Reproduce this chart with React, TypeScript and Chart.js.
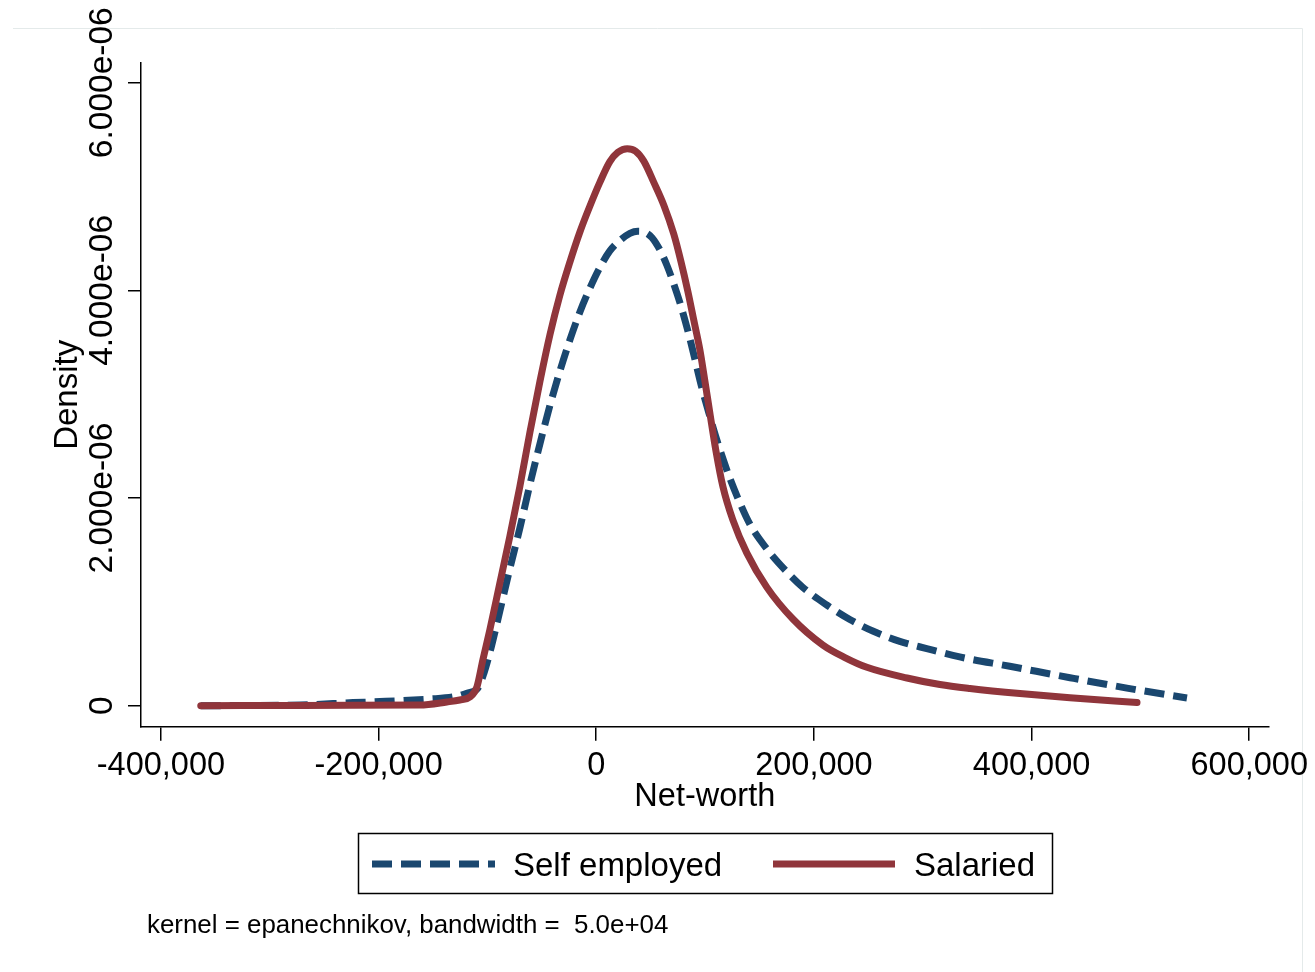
import React, { useEffect, useRef } from "react";
import { Chart, registerables } from "chart.js";

Chart.register(...registerables);

const FONT = "'Liberation Sans', Arial, Helvetica, sans-serif";
const NAVY = "#1a476f";
const MAROON = "#90353b";

const X_TICKS = [-400000, -200000, 0, 200000, 400000, 600000];
const X_TICK_LABELS = ["-400,000", "-200,000", "0", "200,000", "400,000", "600,000"];
const Y_TICKS = [0, 2e-6, 4e-6, 6e-6];
const Y_TICK_LABELS = ["0", "2.000e-06", "4.000e-06", "6.000e-06"];
const X_RANGE = [-418300, 617800];
const Y_RANGE = [-0.202e-6, 6.19e-6];

const SERIES_NAMES = ["Self employed", "Salaried"];
const X_TITLE = "Net-worth";
const Y_TITLE = "Density";
const NOTE = "kernel = epanechnikov, bandwidth =  5.0e+04";

// Self employed (net-worth, density)
const SELF_X = [
  -363400, -272200, -223500, -198900, -153000, -131800, -118900, -108800, -103300,
  -97800, -88600, -79400, -70200, -61000, -51800, -42600, -33500, -24300, -15100,
  -5900, 3300, 12500, 21700, 30900, 38200, 44700, 51100, 58500, 65000, 71300,
  77800, 84200, 90600, 97100, 103500, 109900, 116400, 122800, 130100, 141100,
  156800, 175100, 189800, 211800, 233000, 254100, 278900, 303700, 334000, 380000,
  435300, 487600, 542800,
];
const SELF_Y = [
  0.0, 0.007e-6, 0.03e-6, 0.04e-6, 0.065e-6, 0.084e-6, 0.12e-6, 0.17e-6, 0.31e-6,
  0.51e-6, 0.91e-6, 1.32e-6, 1.71e-6, 2.13e-6, 2.52e-6, 2.89e-6, 3.22e-6, 3.52e-6, 3.79e-6,
  4.02e-6, 4.22e-6, 4.38e-6, 4.48e-6, 4.55e-6, 4.57e-6, 4.56e-6, 4.51e-6, 4.39e-6, 4.24e-6, 4.06e-6,
  3.85e-6, 3.61e-6, 3.34e-6, 3.06e-6, 2.82e-6, 2.59e-6, 2.38e-6, 2.19e-6, 2.0e-6, 1.75e-6,
  1.51e-6, 1.29e-6, 1.14e-6, 0.97e-6, 0.83e-6, 0.72e-6, 0.62e-6, 0.55e-6, 0.47e-6, 0.38e-6,
  0.27e-6, 0.17e-6, 0.074e-6,
];

// Salaried (net-worth, density)
const SAL_X = [
  -363400, -290800, -226500, -162100, -137300, -125400, -116200, -109700, -104200,
  -97800, -88600, -79400, -70200, -61000, -51800, -42600, -33500, -24300, -15100,
  -5900, 3300, 12500, 19900, 28500, 36200, 43700, 52900, 62100, 71300, 77800,
  84200, 89700, 95200, 99800, 104400, 109900, 116400, 125500, 138400, 156800,
  180700, 208300, 228500, 248700, 285500, 315800, 343400, 389300, 435300, 496900,
];
const SAL_Y = [
  0.0, 0.002e-6, 0.004e-6, 0.007e-6, 0.036e-6, 0.055e-6, 0.084e-6, 0.18e-6, 0.44e-6,
  0.73e-6, 1.18e-6, 1.63e-6, 2.11e-6, 2.63e-6, 3.12e-6, 3.57e-6, 3.95e-6, 4.27e-6, 4.56e-6,
  4.81e-6, 5.04e-6, 5.24e-6, 5.33e-6, 5.365e-6, 5.34e-6, 5.245e-6, 5.04e-6, 4.82e-6, 4.54e-6, 4.28e-6,
  3.99e-6, 3.71e-6, 3.43e-6, 3.13e-6, 2.82e-6, 2.46e-6, 2.11e-6, 1.79e-6, 1.47e-6, 1.14e-6,
  0.835e-6, 0.584e-6, 0.464e-6, 0.37e-6, 0.267e-6, 0.204e-6, 0.166e-6, 0.117e-6, 0.077e-6, 0.031e-6,
];

const decorPlugin = {
  id: "decor",
  beforeDraw(chart: any) {
    const ctx = chart.ctx;
    ctx.save();
    ctx.fillStyle = "#ffffff";
    ctx.fillRect(0, 0, chart.width, chart.height);
    ctx.strokeStyle = "#e4eaea";
    ctx.lineWidth = 1;
    ctx.beginPath();
    ctx.moveTo(13, 28.5);
    ctx.lineTo(1302.5, 28.5);
    ctx.lineTo(1302.5, chart.height);
    ctx.stroke();
    ctx.restore();
  },
  afterDraw(chart: any) {
    const ctx = chart.ctx;
    ctx.save();
    // legend frame
    ctx.strokeStyle = "#000";
    ctx.lineWidth = 1.5;
    ctx.strokeRect(358.5, 833.5, 694, 60);
    // self employed sample
    ctx.lineWidth = 7;
    ctx.lineCap = "butt";
    ctx.strokeStyle = NAVY;
    ctx.setLineDash([20, 9]);
    ctx.beginPath();
    ctx.moveTo(372, 864);
    ctx.lineTo(495, 864);
    ctx.stroke();
    // salaried sample
    ctx.setLineDash([]);
    ctx.strokeStyle = MAROON;
    ctx.beginPath();
    ctx.moveTo(773, 864);
    ctx.lineTo(895, 864);
    ctx.stroke();
    // texts
    ctx.fillStyle = "#000";
    ctx.textBaseline = "alphabetic";
    ctx.textAlign = "left";
    ctx.font = `33px ${FONT}`;
    ctx.fillText(SERIES_NAMES[0], 513, 876);
    ctx.fillText(SERIES_NAMES[1], 914, 876);
    ctx.font = `25.9px ${FONT}`;
    ctx.fillText(NOTE, 147, 933);
    ctx.restore();
  },
};

export default function App() {
  const canvasRef = useRef<HTMLCanvasElement | null>(null);

  useEffect(() => {
    const canvas = canvasRef.current;
    if (!canvas) return;
    const selfData = SELF_X.map((x, i) => ({ x, y: SELF_Y[i] }));
    const salData = SAL_X.map((x, i) => ({ x, y: SAL_Y[i] }));

    const chart = new Chart(canvas, {
      type: "line",
      data: {
        datasets: [
          {
            label: SERIES_NAMES[0],
            data: selfData,
            borderColor: NAVY,
            backgroundColor: NAVY,
            borderWidth: 7,
            borderDash: [20, 9],
            borderCapStyle: "butt",
            pointRadius: 0,
            cubicInterpolationMode: "monotone",
            fill: false,
            order: 1,
          },
          {
            label: SERIES_NAMES[1],
            data: salData,
            borderColor: MAROON,
            backgroundColor: MAROON,
            borderWidth: 7,
            borderCapStyle: "round",
            borderJoinStyle: "round",
            pointRadius: 0,
            cubicInterpolationMode: "monotone",
            fill: false,
            order: 0,
          },
        ],
      },
      options: {
        responsive: false,
        animation: false,
        devicePixelRatio: 1,
        layout: { padding: { left: 0, top: 63, right: 46.4, bottom: 140 } },
        plugins: {
          legend: { display: false },
          tooltip: { enabled: false },
          title: { display: false },
        },
        scales: {
          x: {
            type: "linear",
            min: X_RANGE[0],
            max: X_RANGE[1],
            afterBuildTicks: (s: any) => {
              s.ticks = X_TICKS.map((v) => ({ value: v }));
            },
            afterFit: (s: any) => {
              s.height = 105.3;
            },
            ticks: {
              callback: (_v: any, i: number) => X_TICK_LABELS[i],
              autoSkip: false,
              minRotation: 0,
              maxRotation: 0,
              padding: 6,
              color: "#000",
              font: { family: FONT, size: 32.5 },
            },
            grid: {
              drawOnChartArea: false,
              drawTicks: true,
              tickLength: 14,
              color: "#000",
              lineWidth: 1.5,
            },
            border: { display: true, color: "#000", width: 1.5 },
            title: {
              display: true,
              text: X_TITLE,
              color: "#000",
              font: { family: FONT, size: 32.5 },
              padding: { top: 0, bottom: 15.5 },
            },
          },
          y: {
            type: "linear",
            min: Y_RANGE[0],
            max: Y_RANGE[1],
            afterBuildTicks: (s: any) => {
              s.ticks = Y_TICKS.map((v) => ({ value: v }));
            },
            afterFit: (s: any) => {
              s.width = 141;
            },
            ticks: {
              callback: (_v: any, i: number) => Y_TICK_LABELS[i],
              autoSkip: false,
              minRotation: 90,
              maxRotation: 90,
              crossAlign: "center",
              padding: -50,
              color: "#000",
              font: { family: FONT, size: 33.5 },
            },
            grid: {
              drawOnChartArea: false,
              drawTicks: true,
              tickLength: 13,
              color: "#000",
              lineWidth: 1.5,
            },
            border: { display: true, color: "#000", width: 1.5 },
            title: {
              display: true,
              text: Y_TITLE,
              color: "#000",
              font: { family: FONT, size: 33 },
              padding: { top: 48, bottom: 0 },
            },
          },
        },
      } as any,
      plugins: [decorPlugin],
    });

    return () => chart.destroy();
  }, []);

  return (
    <div style={{ position: "absolute", left: 0, top: 0, width: 1315, height: 972 }}>
      <canvas ref={canvasRef} width={1315} height={972} style={{ display: "block" }} />
    </div>
  );
}
